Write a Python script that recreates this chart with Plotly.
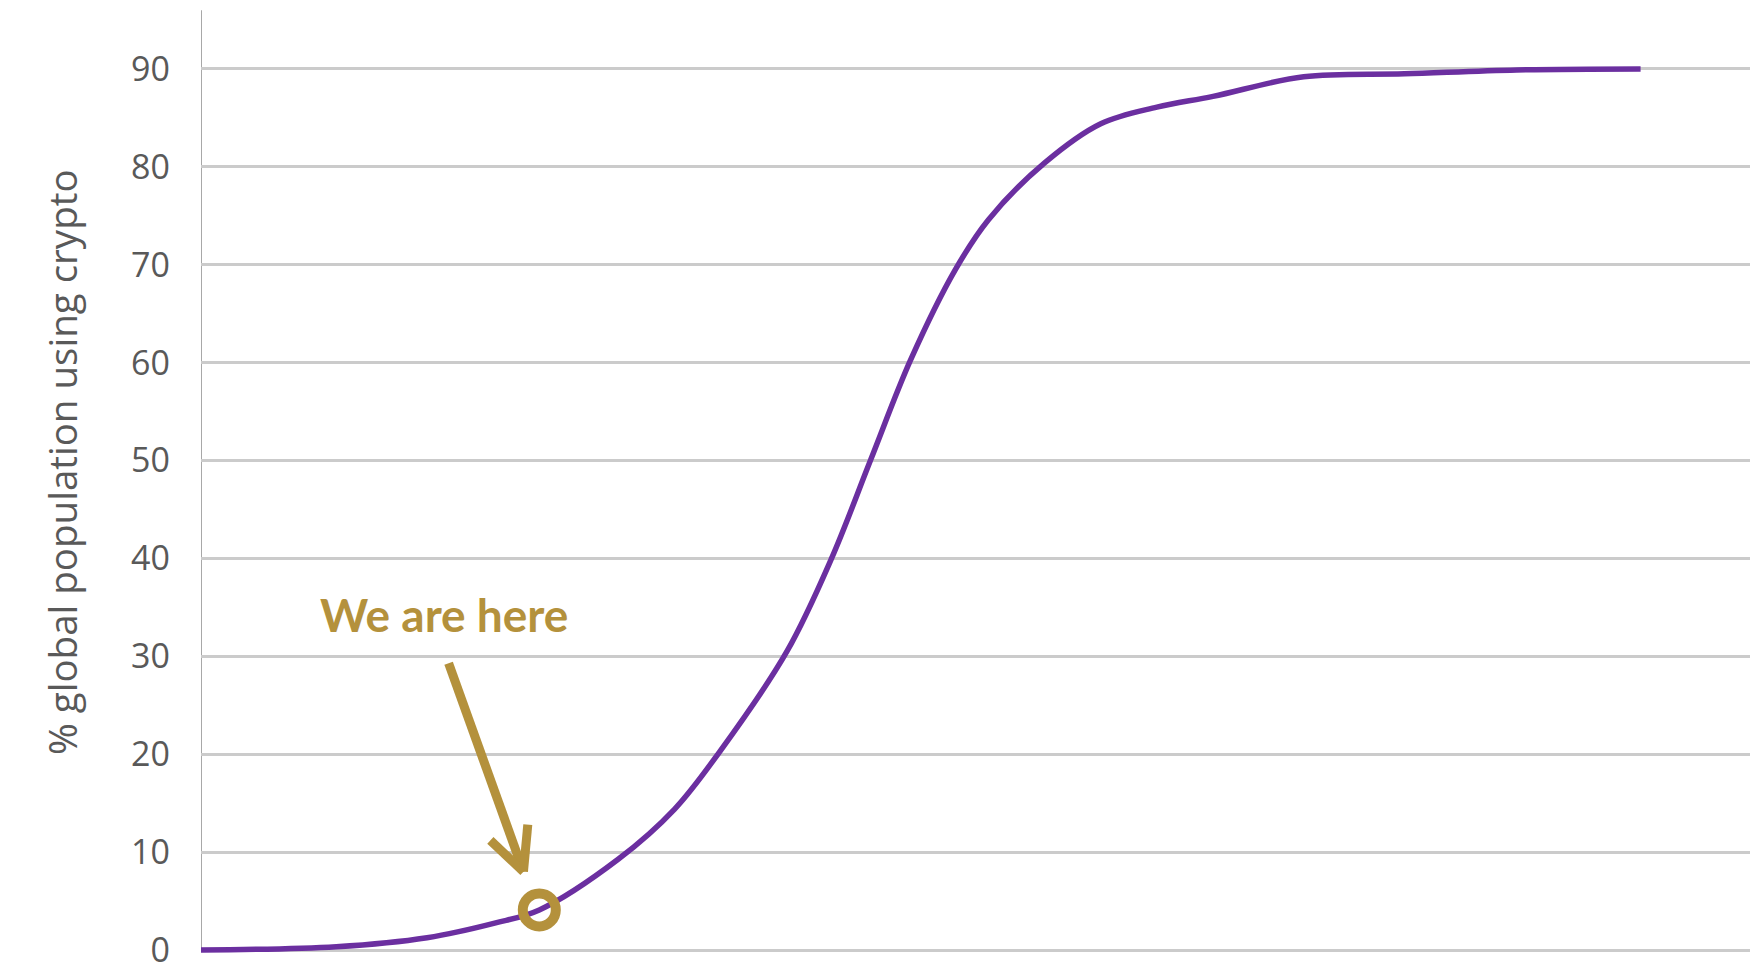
import plotly.graph_objects as go

# Adoption curve (x is an unlabelled time scale, 0..100)
time_x = [0, 9.4, 15.7, 20.4, 23.5, 29.0, 32.9, 36.0, 40.7, 43.8, 46.5, 49.3,
          52.4, 54.7, 58.6, 62.5, 66.4, 70.3, 76.6, 83.6, 91.4, 100]
pct_users = [0, 0.34, 1.26, 2.75, 4.1, 9.3, 14.4, 20.2, 30.5, 40.0, 50.0, 60.3,
             69.5, 74.6, 80.4, 84.4, 86.1, 87.2, 89.2, 89.5, 89.9, 90]
here_x = [23.5]
here_y = [4.1]
y_ticks = [0, 10, 20, 30, 40, 50, 60, 70, 80, 90]
y_title = "% global population using crypto"
here_label = "We are here"

PURPLE = "#6B2FA0"
GOLD = "#B4913C"
GRID = "#CBCBCB"

fig = go.Figure()
fig.add_trace(go.Scatter(x=time_x, y=pct_users, mode="lines",
                         line=dict(color=PURPLE, width=5.5, shape="spline", smoothing=1.0),
                         hoverinfo="skip", showlegend=False))
fig.add_trace(go.Scatter(x=here_x, y=here_y, mode="markers",
                         marker=dict(symbol="circle-open", size=33, color=GOLD,
                                     line=dict(color=GOLD, width=10)),
                         hoverinfo="skip", showlegend=False))

# y axis line from 0 to top
fig.add_shape(type="line", xref="x", yref="y", x0=0, x1=0, y0=0, y1=96,
              line=dict(color="#A8A8A8", width=2), layer="below")

# arrow (tail -> tip) with open V head
tail = (17.2, 29.3)
tip = (22.4, 8.0)
barb_l = (20.1, 11.2)
barb_r = (22.7, 12.8)
for p in (tail, barb_l, barb_r):
    fig.add_shape(type="line", xref="x", yref="y", x0=p[0], y0=p[1], x1=tip[0], y1=tip[1],
                  line=dict(color=GOLD, width=9))

fig.add_annotation(x=16.9, y=34.3, xref="x", yref="y", text="<b>" + here_label + "</b>",
                   showarrow=False, font=dict(family="Lato", size=46, color=GOLD))

fig.add_annotation(x=(62 - 201) / 1549, y=(965 - 462) / 955, xref="paper", yref="paper",
                   xanchor="center", yanchor="middle", text=y_title, textangle=-90,
                   showarrow=False, font=dict(family="Open Sans", size=38.5, color="#595959"))

fig.update_layout(
    width=1761, height=970,
    margin=dict(l=201, r=11, t=10, b=5, autoexpand=False),
    paper_bgcolor="white", plot_bgcolor="white",
    xaxis=dict(range=[0, 107.6], showticklabels=False, showgrid=False, zeroline=False,
               showline=False, ticks="", automargin=False),
    yaxis=dict(range=[-1.53, 96.02], tickvals=y_ticks, showgrid=True, gridcolor=GRID, gridwidth=3,
               zeroline=False, showline=False, ticklabeloverflow="allow", automargin=False,
               ticks="", ticklabelstandoff=30,
               tickfont=dict(family="Open Sans", size=34, color="#595959")),
)

fig.write_html("out.html")
